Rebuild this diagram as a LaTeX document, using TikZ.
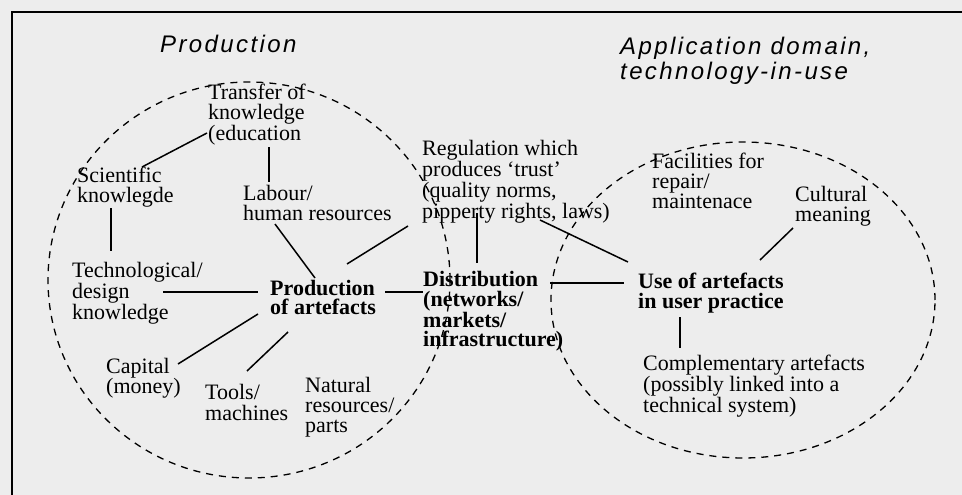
\documentclass[tikz,border=0pt]{standalone}
\usepackage{fontspec}
\setmainfont{Liberation Serif}
\newfontfamily\headfont[LetterSpace=10]{Liberation Sans}
\usetikzlibrary{shapes.geometric}

\begin{document}
\begin{tikzpicture}[x=1pt, y=-1pt,
  plaintext/.style={anchor=north west, inner sep=0pt, align=left,
    font=\fontsize{22}{20}\selectfont,
    execute at begin node=\rule{0pt}{15pt}},
  boldtext/.style={plaintext, font=\fontsize{22}{19.5}\selectfont\bfseries},
  headtext/.style={anchor=north west, inner sep=0pt, align=left,
    font=\headfont\itshape\fontsize{24}{25}\selectfont,
    execute at begin node=\rule{0pt}{18pt}},
  zone/.style={draw, ellipse, inner sep=0pt, line width=1.3pt,
    dash pattern=on 7pt off 6pt},
  link/.style={draw, line width=1.5pt}]

% paper and frame
\fill[black!7] (0,0) rectangle (962,495);
\useasboundingbox (0,0) rectangle (962,495);
\draw[line width=2.5pt] (962,12) -- (12,12) -- (12,495);

% the two domains
\node[zone, minimum width=402pt, minimum height=396pt] (prodzone) at (249,280) {};
\node[zone, minimum width=384pt, minimum height=316pt] (usezone) at (743,300) {};

% headings
\node[headtext] (prodhead) at (160,34) {Production};
\node[headtext] (usehead) at (620,37) {Application domain,\\technology-in-use};

% production side
\node[plaintext] (transfer) at (208,84) {Transfer of\\knowledge\\(education};
\node[plaintext] (science) at (77,167) {Scientific\\knowlegde};
\node[plaintext] (labour) at (243,185) {Labour/\\human resources};
\node[plaintext, font=\fontsize{22}{19}\selectfont] (techdesign) at (72,262) {Technological/\\design\\knowledge};
\node[boldtext] (production) at (270,280) {Production\\of artefacts};
\node[plaintext] (capital) at (106,358) {Capital\\(money)};
\node[plaintext, font=\fontsize{22}{21}\selectfont] (tools) at (205,384) {Tools/\\machines};
\node[plaintext] (natural) at (305,377) {Natural\\resources/\\parts};

% between the domains
\node[plaintext, font=\fontsize{22}{19}\selectfont] (regulation) at (422,140) {Regulation which\\produces `trust'\\(quality norms,\\pipperty rights, laws)};
\node[boldtext, font=\fontsize{22}{19.7}\selectfont\bfseries] (distribution) at (423,271) {Distribution\\(networks/\\markets/\\infrastructure)};

% application side
\node[plaintext] (facilities) at (652,153) {Facilities for\\repair/\\maintenace};
\node[plaintext] (culture) at (795,186) {Cultural\\meaning};
\node[boldtext] (use) at (638,273) {Use of artefacts\\in user practice};
\node[plaintext, font=\fontsize{22}{19}\selectfont] (complement) at (643,355) {Complementary artefacts\\(possibly linked into a\\technical system)};

% connectors
\path[link] ([shift={(-1,49)}]transfer.north west) -- ([shift={(65,0)}]science.north west);
\path[link] ([shift={(61,63)}]transfer.north west) -- ([shift={(26,-3)}]labour.north west);
\path[link] ([shift={(34,41)}]science.north west) -- ([shift={(39,-11)}]techdesign.north west);
\path[link] ([shift={(32,39)}]labour.north west) -- ([shift={(45,-2)}]production.north west);
\path[link] ([shift={(-14,86)}]regulation.north west) -- ([shift={(77,-16)}]production.north west);
\path[link] ([shift={(91,30)}]techdesign.north west) -- ([shift={(-12,12)}]production.north west);
\path[link] ([shift={(115,12)}]production.north west) -- ([shift={(0,21)}]distribution.north west);
\path[link] ([shift={(55,73)}]regulation.north west) -- ([shift={(54,-8)}]distribution.north west);
\path[link] ([shift={(118,80)}]regulation.north west) -- ([shift={(-10,-11)}]use.north west);
\path[link] ([shift={(127,12)}]distribution.north west) -- ([shift={(-14,10)}]use.north west);
\path[link] ([shift={(-2,42)}]culture.north west) -- ([shift={(122,-13)}]use.north west);
\path[link] ([shift={(42,44)}]use.north west) -- ([shift={(37,-7)}]complement.north west);
\path[link] ([shift={(-12,34)}]production.north west) -- ([shift={(72,6)}]capital.north west);
\path[link] ([shift={(18,52)}]production.north west) -- ([shift={(42,-13)}]tools.north west);
\end{tikzpicture}
\end{document}
